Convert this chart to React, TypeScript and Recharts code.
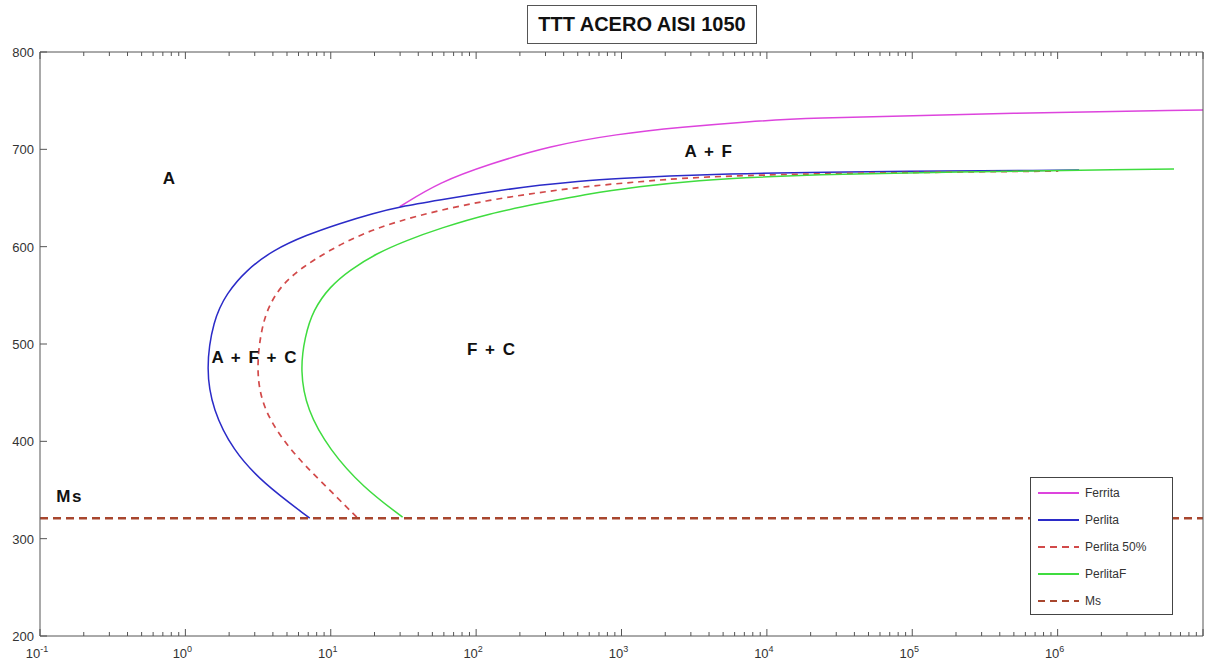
import { LineChart, Line, XAxis, YAxis, ReferenceDot } from "recharts";

const ferritaTime = [29.8, 56.1, 123.8, 320, 924, 2626, 7580, 16730, 338000, 10000000];
const ferritaTemp = [641, 666.4, 684.9, 703.4, 715.7, 722.9, 728.6, 731.7, 737, 740.4];

const perlitaTime = [
  7.17, 3.41, 2.12, 1.545, 1.38, 1.553, 1.92, 2.63, 4.01, 6.81, 11.53, 19.53, 29.8, 56.1, 123.8, 273, 603, 1330, 2934,
  16730, 1405000,
];
const perlitaTemp = [
  321.1, 357.1, 391, 432.1, 474.1, 524.6, 552.1, 576, 596.5, 612, 623.9, 634.2, 641, 647.9, 656.4, 663.3, 668.5, 671.2,
  673.6, 676.7, 678.7,
];

const perlita50Time = [
  15.09, 8.4, 5.23, 3.41, 3.06, 3.34, 3.81, 4.7, 6.45, 9.84, 16.67, 28.28, 56.1, 123.8, 273, 603, 1330, 2934, 16730,
  1010000,
];
const perlita50Temp = [
  322.1, 360.1, 391, 432.1, 473.2, 517.7, 541.7, 562.3, 579.3, 596.5, 613.7, 625.6, 637.6, 647.9, 655.8, 662.3, 666.7,
  671.2, 675.1, 677.7,
];

const perlitaFTime = [
  31.2, 16.6, 9.84, 6.84, 6.15, 6.63, 7.56, 9.84, 13.51, 20.62, 33.14, 56.1, 123.8, 273, 603, 1330, 2934, 16730,
  6320000,
];
const perlitaFTemp = [
  322.1, 353, 391, 432.1, 473.2, 507.4, 534.8, 558.8, 576, 593.1, 606.4, 618.8, 634.2, 644.5, 654.8, 661.6, 667.7,
  674.6, 679.8,
];

const msTime = [0.1, 10000000];
const msTemp = [321, 321];

const yTicks = [200, 300, 400, 500, 600, 700, 800];

const regionLabels = ["A", "A + F", "A + F + C", "F + C", "Ms"];
const regionTime = [0.78, 4000, 3.0, 128, 0.16];
const regionTemp = [670, 698, 486, 494, 343];

const toRows = (t: number[], T: number[]) => t.map((v, i) => ({ t: v, T: T[i] }));

const series = [
  { name: "Ferrita", data: toRows(ferritaTime, ferritaTemp), color: "#dd44dd", dash: undefined, width: 1.5, curve: "basis" },
  { name: "Perlita", data: toRows(perlitaTime, perlitaTemp), color: "#2b2bc8", dash: undefined, width: 1.5, curve: "basis" },
  { name: "Perlita 50%", data: toRows(perlita50Time, perlita50Temp), color: "#d24a4a", dash: "6 5", width: 1.7, curve: "basis" },
  { name: "PerlitaF", data: toRows(perlitaFTime, perlitaFTemp), color: "#3fdc3f", dash: undefined, width: 1.5, curve: "basis" },
  { name: "Ms", data: toRows(msTime, msTemp), color: "#a8462e", dash: "8 5", width: 2.6, curve: "linear" },
];

// marcas log: decadas y menores 2..9
const xTicks: number[] = [];
for (let d = -1; d <= 6; d++) {
  for (let m = 1; m <= 9; m++) xTicks.push(m * Math.pow(10, d));
}
xTicks.push(1e7);

const isDecade = (v: number) => Math.abs(Math.log10(v) - Math.round(Math.log10(v))) < 1e-6;

const FONT = "'Liberation Sans', Arial, sans-serif";
const AXIS = "#555";

function BottomTick(props: any) {
  const { x, y, payload } = props;
  const major = isDecade(payload.value);
  const exp = Math.round(Math.log10(payload.value));
  return (
    <g>
      <line x1={x} y1={y} x2={x} y2={y - (major ? 7 : 4)} stroke={AXIS} />
      {major && exp < 7 && (
        <text x={x - 3} y={y + 22} textAnchor="middle" fontSize={13} fill="#333" fontFamily={FONT}>
          10
          <tspan dy={-6} fontSize={9}>{exp}</tspan>
        </text>
      )}
    </g>
  );
}

function TopTick(props: any) {
  const { x, y, payload } = props;
  const major = isDecade(payload.value);
  return <line x1={x} y1={y} x2={x} y2={y + (major ? 7 : 4)} stroke={AXIS} />;
}

function LeftTick(props: any) {
  const { x, y, payload } = props;
  return (
    <g>
      <line x1={x} y1={y} x2={x + 7} y2={y} stroke={AXIS} />
      <text x={x - 6} y={y + 5} textAnchor="end" fontSize={13} fill="#333" fontFamily={FONT}>
        {payload.value}
      </text>
    </g>
  );
}

function RightTick(props: any) {
  const { x, y } = props;
  return <line x1={x} y1={y} x2={x - 7} y2={y} stroke={AXIS} />;
}

function RegionText(text: string) {
  return (p: any) => (
    <text
      x={p.cx}
      y={p.cy}
      textAnchor="middle"
      dominantBaseline="central"
      fontSize={17}
      fontWeight="bold"
      fill="#111"
      fontFamily={FONT}
      style={{ letterSpacing: 1.5 }}
    >
      {text}
    </text>
  );
}

function LegendBox() {
  return (
    <div
      style={{
        position: "absolute",
        left: 1030,
        top: 477,
        width: 143,
        height: 138,
        border: "1px solid #444",
        background: "#fff",
        fontFamily: FONT,
        fontSize: 12,
        color: "#333",
        boxSizing: "border-box",
        paddingTop: 1,
        zIndex: 2,
      }}
    >
      {series.map((s) => (
        <div key={s.name} style={{ display: "flex", alignItems: "center", height: 27 }}>
          <svg width={47} height={10} style={{ marginLeft: 7 }}>
            <line x1={0} y1={5} x2={41} y2={5} stroke={s.color} strokeWidth={2} strokeDasharray={s.dash ? "7 5" : undefined} />
          </svg>
          <span>{s.name}</span>
        </div>
      ))}
    </div>
  );
}

export default function App() {
  return (
    <div style={{ position: "absolute", left: 0, top: 0, width: 1214, height: 671, background: "#fff" }}>
      <div
        style={{
          position: "absolute",
          left: 527,
          top: 5,
          width: 230,
          height: 39,
          border: "1px solid #555",
          boxSizing: "border-box",
          display: "flex",
          alignItems: "center",
          justifyContent: "center",
          fontFamily: FONT,
          fontWeight: "bold",
          fontSize: 20,
          color: "#111",
          zIndex: 2,
        }}
      >
        TTT ACERO AISI 1050
      </div>
      <LineChart width={1214} height={671} margin={{ top: 51, right: 10, bottom: 0, left: 0 }}>
        <XAxis
          xAxisId="b"
          dataKey="t"
          type="number"
          scale="log"
          domain={[0.1, 1e7]}
          allowDataOverflow
          ticks={xTicks}
          interval={0}
          height={35}
          tickSize={0}
          tickMargin={0}
          tickLine={false}
          axisLine={{ stroke: AXIS }}
          tick={<BottomTick />}
        />
        <XAxis
          xAxisId="top"
          orientation="top"
          dataKey="t"
          type="number"
          scale="log"
          domain={[0.1, 1e7]}
          allowDataOverflow
          ticks={xTicks}
          interval={0}
          height={1}
          tickSize={0}
          tickMargin={0}
          tickLine={false}
          axisLine={{ stroke: AXIS }}
          tick={<TopTick />}
        />
        <YAxis
          yAxisId="l"
          type="number"
          domain={[200, 800]}
          ticks={yTicks}
          interval={0}
          width={40}
          tickSize={0}
          tickMargin={0}
          tickLine={false}
          axisLine={{ stroke: AXIS }}
          tick={<LeftTick />}
        />
        <YAxis
          yAxisId="r"
          orientation="right"
          type="number"
          domain={[200, 800]}
          ticks={yTicks}
          interval={0}
          width={1}
          tickSize={0}
          tickMargin={0}
          tickLine={false}
          axisLine={{ stroke: AXIS }}
          tick={<RightTick />}
        />
        {series.map((s) => (
          <Line
            key={s.name}
            xAxisId="b"
            yAxisId="l"
            data={s.data}
            dataKey="T"
            name={s.name}
            type={s.curve as any}
            stroke={s.color}
            strokeWidth={s.width}
            strokeDasharray={s.dash}
            dot={false}
            activeDot={false}
            isAnimationActive={false}
          />
        ))}
        {regionLabels.map((txt, i) => (
          <ReferenceDot
            key={txt}
            xAxisId="b"
            yAxisId="l"
            x={regionTime[i]}
            y={regionTemp[i]}
            r={1}
            shape={RegionText(txt)}
          />
        ))}
      </LineChart>
      <LegendBox />
    </div>
  );
}
